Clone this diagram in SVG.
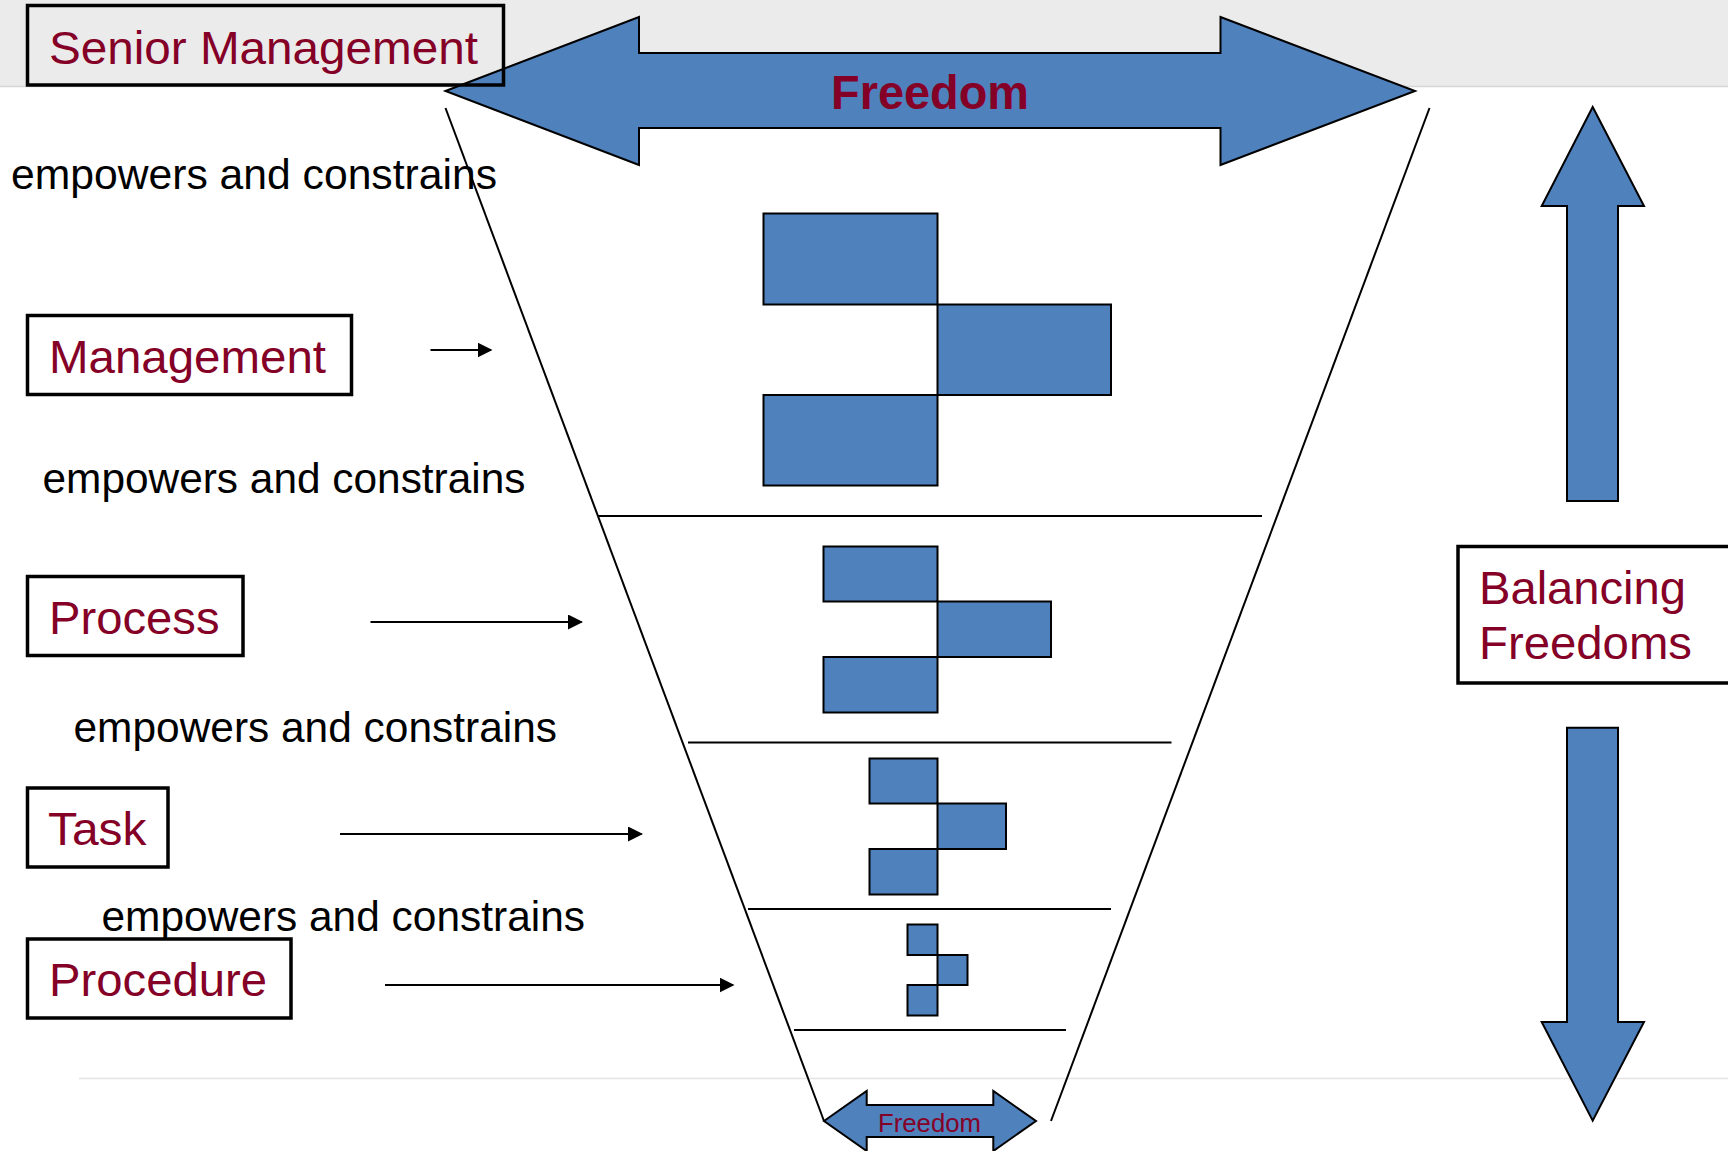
<svg xmlns="http://www.w3.org/2000/svg" width="1728" height="1151" viewBox="0 0 1728 1151">
<style>
.lbl{font-family:"Liberation Sans",Arial,sans-serif;font-size:47px;fill:#850027}
.emp{font-family:"Liberation Sans",Arial,sans-serif;font-size:42.5px;fill:#000}
.box{fill:none;stroke:#000;stroke-width:3.5}
.blue{fill:#4f81bd;stroke:#000;stroke-width:2}
.fl{stroke:#000;stroke-width:2;fill:none}
.hl{stroke:#000;stroke-width:2.2}
.con{stroke:#000;stroke-width:2;fill:none;marker-end:url(#ah)}
</style>
<defs>
<marker id="ah" viewBox="0 0 10 10" refX="9" refY="5" markerWidth="7.5" markerHeight="7.5" orient="auto">
<path d="M0,0 L10,5 L0,10 Z" fill="#000"/>
</marker>
</defs>
<rect x="0" y="0" width="1728" height="1151" fill="#fff"/>
<g id="background">
<rect x="0" y="0" width="1728" height="86" fill="#ebebeb"/>
<line x1="0" y1="86.5" x2="1728" y2="86.5" stroke="#d6d6d6" stroke-width="1.5"/>
<line x1="79" y1="1078.5" x2="1728" y2="1078.5" stroke="#e4e4e4" stroke-width="1.5"/>
</g>
<g id="freedom-top">
<path class="blue" d="M445.5,91 L639,17 L639,53 L1220.5,53 L1220.5,17 L1415,91 L1220.5,165 L1220.5,128 L639,128 L639,165 Z"/>
<text x="930" y="109" text-anchor="middle" font-family="Liberation Sans,Arial,sans-serif" font-size="48" font-weight="bold" fill="#850027" textLength="198" lengthAdjust="spacingAndGlyphs">Freedom</text>
</g>
<g id="funnel">
<line class="fl" x1="445.5" y1="108" x2="824" y2="1121"/>
<line class="fl" x1="1429.5" y1="108" x2="1051" y2="1121"/>
<line class="hl" x1="598" y1="516" x2="1262" y2="516"/>
<line class="hl" x1="688" y1="742.5" x2="1171.5" y2="742.5"/>
<line class="hl" x1="748" y1="909" x2="1111" y2="909"/>
<line class="hl" x1="794" y1="1030" x2="1066" y2="1030"/>
</g>
<g id="blocks-management">
<rect class="blue" x="763.5" y="213.5" width="174" height="91"/>
<rect class="blue" x="937.5" y="304.5" width="173.5" height="90.5"/>
<rect class="blue" x="763.5" y="395" width="174" height="90.5"/>
</g>
<g id="blocks-process">
<rect class="blue" x="823.5" y="546.5" width="114" height="55"/>
<rect class="blue" x="937.5" y="601.5" width="113.5" height="55.5"/>
<rect class="blue" x="823.5" y="657" width="114" height="55.5"/>
</g>
<g id="blocks-task">
<rect class="blue" x="869.5" y="758.5" width="68" height="45"/>
<rect class="blue" x="937.5" y="803.5" width="68.5" height="45.5"/>
<rect class="blue" x="869.5" y="849" width="68" height="45.5"/>
</g>
<g id="blocks-procedure">
<rect class="blue" x="907.5" y="924.5" width="30" height="30.5"/>
<rect class="blue" x="937.5" y="955" width="30" height="30"/>
<rect class="blue" x="907.5" y="985" width="30" height="30.5"/>
</g>
<g id="senior-management">
<rect class="box" x="27.5" y="5.5" width="476" height="79.5"/>
<text class="lbl" x="49" y="63.5" textLength="429" lengthAdjust="spacingAndGlyphs">Senior Management</text>
</g>
<g id="management">
<rect class="box" x="27.5" y="315.5" width="324" height="79"/>
<text class="lbl" x="49" y="372.5" textLength="277" lengthAdjust="spacingAndGlyphs">Management</text>
</g>
<g id="process">
<rect class="box" x="27.5" y="576.5" width="215.5" height="79"/>
<text class="lbl" x="49" y="633.5" textLength="170.5" lengthAdjust="spacingAndGlyphs">Process</text>
</g>
<g id="task">
<rect class="box" x="27.5" y="788" width="140.5" height="79"/>
<text class="lbl" x="48" y="845" textLength="98.5" lengthAdjust="spacingAndGlyphs">Task</text>
</g>
<g id="procedure">
<rect class="box" x="27.5" y="939" width="263.5" height="79"/>
<text class="lbl" x="49" y="995.5" textLength="218" lengthAdjust="spacingAndGlyphs">Procedure</text>
</g>
<g id="empowers-labels">
<text class="emp" x="11" y="189" textLength="486" lengthAdjust="spacingAndGlyphs">empowers and constrains</text>
<text class="emp" x="42.5" y="493" textLength="483" lengthAdjust="spacingAndGlyphs">empowers and constrains</text>
<text class="emp" x="73.5" y="742" textLength="483.5" lengthAdjust="spacingAndGlyphs">empowers and constrains</text>
<text class="emp" x="101.5" y="930.5" textLength="483.5" lengthAdjust="spacingAndGlyphs">empowers and constrains</text>
</g>
<g id="connectors">
<line class="con" x1="430.5" y1="350" x2="491" y2="350"/>
<line class="con" x1="370.5" y1="622" x2="581.5" y2="622"/>
<line class="con" x1="340" y1="834" x2="641.5" y2="834"/>
<line class="con" x1="385" y1="985" x2="733" y2="985"/>
</g>
<g id="balancing">
<path class="blue" d="M1592.7,107 L1644,206 L1618,206 L1618,501 L1567,501 L1567,206 L1541.7,206 Z"/>
<path class="blue" d="M1567,727.7 L1618,727.7 L1618,1022 L1644,1022 L1592.7,1120.7 L1541.7,1022 L1567,1022 Z"/>
<rect class="box" x="1458" y="546.5" width="290" height="136.5"/>
<text class="lbl" x="1479" y="603.5" textLength="207" lengthAdjust="spacingAndGlyphs">Balancing</text>
<text class="lbl" x="1479" y="658.5" textLength="213" lengthAdjust="spacingAndGlyphs">Freedoms</text>
</g>
<g id="freedom-bottom">
<path class="blue" d="M824,1121 L866.7,1091 L866.7,1105 L993.3,1105 L993.3,1091 L1036,1121 L993.3,1151 L993.3,1137 L866.7,1137 L866.7,1151 Z"/>
<text x="929.5" y="1131.5" text-anchor="middle" font-family="Liberation Sans,Arial,sans-serif" font-size="26" fill="#850027" textLength="103" lengthAdjust="spacingAndGlyphs">Freedom</text>
</g>
</svg>
